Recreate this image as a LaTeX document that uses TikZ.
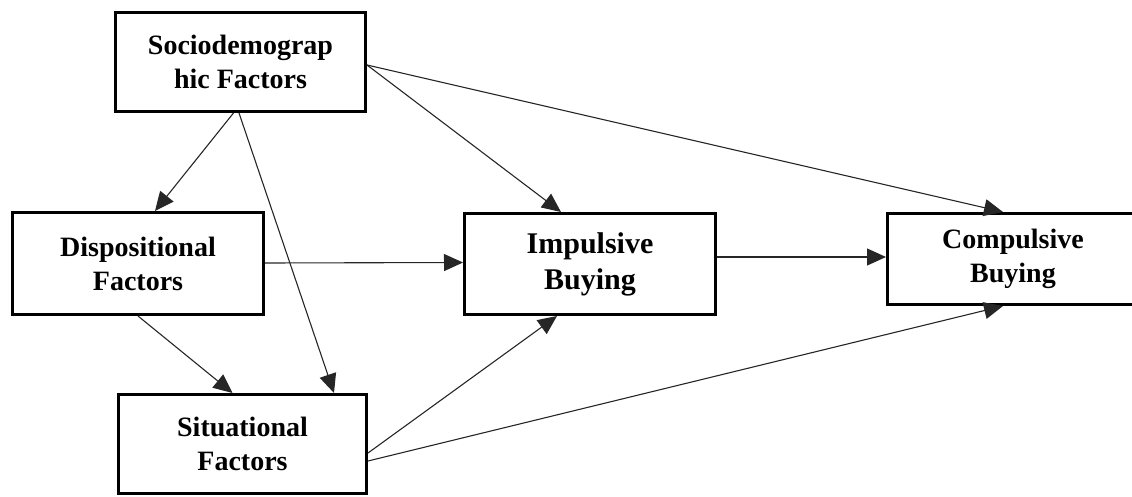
\documentclass[tikz,border=0pt]{standalone}
\usepackage{fontspec}
\setmainfont{Liberation Serif}
\usetikzlibrary{arrows.meta}
\begin{document}
\begin{tikzpicture}[x=1pt,y=-1pt,
  factorbox/.style={draw=black, line width=3pt, align=center, inner sep=0pt,
    font=\bfseries\fontsize{28}{34}\selectfont},
  link/.style={draw=black!85, line width=1.1pt,
    -{Triangle[length=19pt,width=17pt]}}]
\useasboundingbox (0,0) rectangle (1132,497);
\node[factorbox, minimum width=250pt, minimum height=99pt] (soc) at (240.5,62) {Sociodemograp\\hic Factors};
\node[factorbox, minimum width=251pt, minimum height=102pt] (disp) at (138,263.5) {Dispositional\\Factors};
\node[factorbox, minimum width=251pt, minimum height=101pt, font=\bfseries\fontsize{30}{36}\selectfont] (imp) at (590,264) {Impulsive\\Buying};
\node[factorbox, minimum width=251pt, minimum height=91pt] (comp) at (1013,259) {Compulsive\\Buying};
\node[factorbox, minimum width=248pt, minimum height=99pt] (sit) at (242.5,444) {Situational\\Factors};
\draw[link] ([xshift=-7pt]soc.south) -- ([xshift=17pt]disp.north);
\draw[link] ([xshift=-1.5pt]soc.south) -- ([xshift=91.5pt]sit.north);
\draw[link] (disp.south) -- ([xshift=-10pt]sit.north);
\draw[link] ([yshift=0.5pt]disp.east) -- ([yshift=1.5pt]imp.west);
\draw[link] ([yshift=-3pt]soc.east) -- ([xshift=-29pt]imp.north);
\draw[link] ([yshift=-3pt]soc.east) -- ([xshift=-10pt]comp.north);
\draw[link] ([yshift=7pt]imp.east) -- ([yshift=2pt]comp.west);
\draw[link] ([yshift=-9pt]sit.east) -- ([xshift=-33pt]imp.south);
\draw[link] ([yshift=-17pt]sit.east) -- ([xshift=-10pt]comp.south);
\end{tikzpicture}
\end{document}
